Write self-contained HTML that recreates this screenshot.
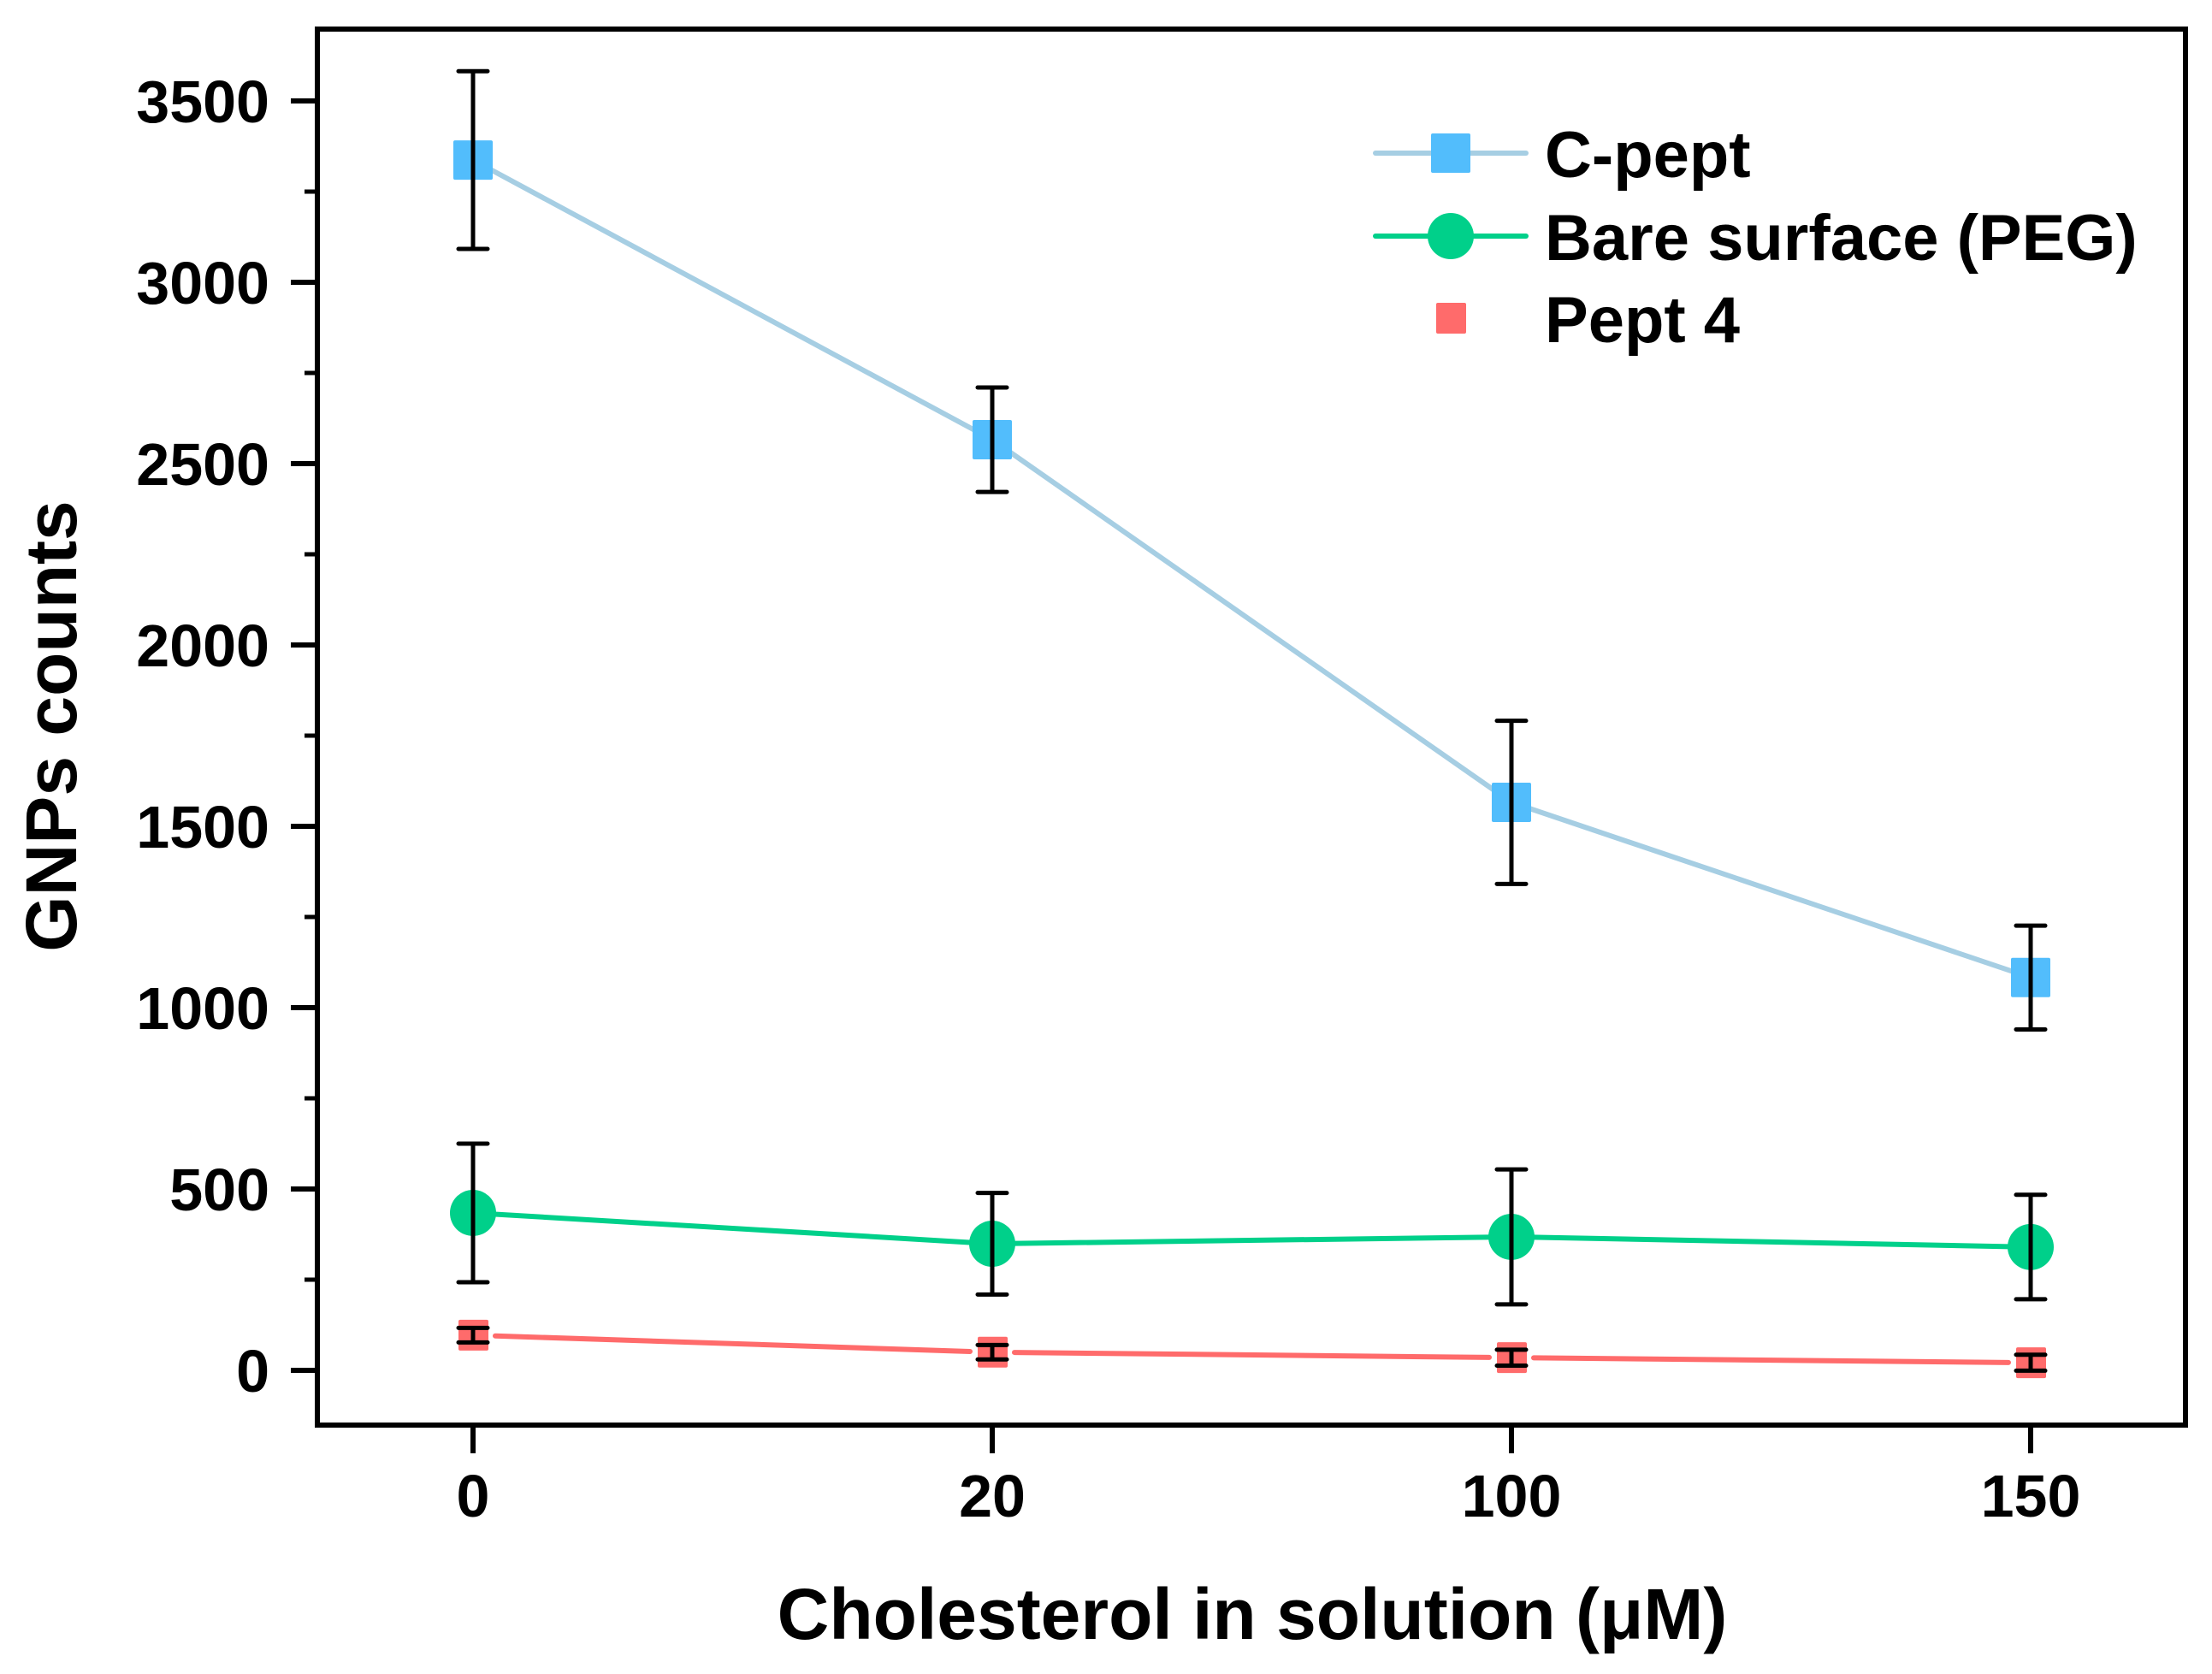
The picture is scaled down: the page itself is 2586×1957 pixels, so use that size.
<!DOCTYPE html>
<html><head><meta charset="utf-8"><style>
html,body{margin:0;padding:0;background:#fff;}
svg{display:block;font-family:"Liberation Sans",Arial,sans-serif;font-weight:bold;}
</style></head><body>
<svg id="chart" width="2586" height="1957" viewBox="0 0 2586 1957" xmlns="http://www.w3.org/2000/svg">
<rect x="0" y="0" width="2586" height="1957" fill="#fff"/>
<g id="marks"></g>
<rect x="371" y="34" width="2184" height="1632" fill="none" stroke="#000" stroke-width="6"/>
<g id="axes"></g>
<text x="1464" y="1916" font-size="84" text-anchor="middle">Cholesterol in solution (μM)</text>
<text transform="translate(89,849) rotate(-90)" font-size="84" text-anchor="middle">GNPs counts</text>
<g>
  <line x1="1608" y1="179" x2="1784" y2="179" stroke="#a6cee3" stroke-width="6" stroke-linecap="round"/>
  <rect x="1673" y="156" width="46" height="46" rx="2" fill="#52bdfc"/>
  <text x="1806" y="207" font-size="76">C-pept</text>
  <line x1="1608" y1="276" x2="1784" y2="276" stroke="#00d08a" stroke-width="6" stroke-linecap="round"/>
  <circle cx="1696" cy="276" r="27" fill="#00d08a"/>
  <text x="1806" y="304" font-size="76">Bare surface (PEG)</text>
  <rect x="1679" y="354" width="35" height="36" rx="2" fill="#ff6b6b"/>
  <text x="1806" y="400" font-size="76">Pept 4</text>
</g>
</svg>
<script>
const categories = ["0", "20", "100", "150"];
const cpeptValues = [3337, 2566, 1566, 1083];
const cpeptErr = [245, 144, 225, 143];
const pegValues = [434, 349, 368, 340];
const pegErr = [191, 140, 186, 144];
const pept4Values = [97, 50, 35, 21];
const pept4Err = [20, 20, 22, 22];
const yTicks = [0, 500, 1000, 1500, 2000, 2500, 3000, 3500];

const NS = "http://www.w3.org/2000/svg";
const xPos = i => 553 + i * 607;
const yPos = v => 1602 - v * (212 / 500);
function mk(tag, attrs, parent) {
  const e = document.createElementNS(NS, tag);
  for (const k in attrs) e.setAttribute(k, attrs[k]);
  parent.appendChild(e);
  return e;
}
const axes = document.getElementById('axes');
const marks = document.getElementById('marks');

yTicks.forEach(v => {
  const t = mk('line', {x1: 340, x2: 371, y1: yPos(v), y2: yPos(v), stroke: '#000', 'stroke-width': 6}, axes);
  
  
  const l = mk('text', {x: 315, y: yPos(v) + 25, 'font-size': 70, 'text-anchor': 'end'}, axes);
  l.textContent = v;
  
  
  if (v < 3500) {
    const m = mk('line', {x1: 356, x2: 371, y1: yPos(v + 250), y2: yPos(v + 250), stroke: '#000', 'stroke-width': 5}, axes);
    
    
  }
});
categories.forEach((c, i) => {
  const t = mk('line', {x1: xPos(i), x2: xPos(i), y1: 1666, y2: 1699, stroke: '#000', 'stroke-width': 6}, axes);
  
  
  const l = mk('text', {x: xPos(i), y: 1773, 'font-size': 70, 'text-anchor': 'middle'}, axes);
  l.textContent = c;
  
  
});

function series(vals, errs, color, lineColor, shape, name, gap) {
  const g = mk('g', {}, marks);
  
  
  for (let i = 0; i < vals.length - 1; i++) {
    let x1 = xPos(i), y1 = yPos(vals[i]), x2 = xPos(i + 1), y2 = yPos(vals[i + 1]);
    if (gap) { const dx = x2 - x1, dy = y2 - y1, L = Math.hypot(dx, dy); x1 += dx / L * gap; y1 += dy / L * gap; x2 -= dx / L * gap; y2 -= dy / L * gap; }
    const s = mk('line', {x1, y1, x2, y2, stroke: lineColor, 'stroke-width': 6, 'stroke-linecap': 'round'}, g);
    
    
  }
  vals.forEach((v, i) => {
    const x = xPos(i), y = yPos(v);
    let m;
    if (shape === 'square') m = mk('rect', {x: x - 23, y: y - 23, width: 46, height: 46, rx: 2, fill: color}, g);
    else if (shape === 'circle') m = mk('circle', {cx: x, cy: y, r: 27, fill: color}, g);
    else m = mk('rect', {x: x - 17, y: y - 18, width: 35, height: 36, rx: 2, fill: color}, g);
    
    
    const yt = yPos(v + errs[i]), yb = yPos(v - errs[i]);
    const eb = mk('path', {d: `M${x},${yt}V${yb}M${x - 17},${yt}H${x + 17}M${x - 17},${yb}H${x + 17}`, stroke: '#000', 'stroke-width': 5, fill: 'none', 'stroke-linecap': 'round'}, g);
    
    
  });
}
series(cpeptValues, cpeptErr, '#52bdfc', '#a6cee3', 'square', 'cpept', 0);
series(pegValues, pegErr, '#00d08a', '#00d08a', 'circle', 'peg', 0);
series(pept4Values, pept4Err, '#ff6b6b', '#ff6b6b', 'small', 'pept4', 26);
</script>
</body></html>
